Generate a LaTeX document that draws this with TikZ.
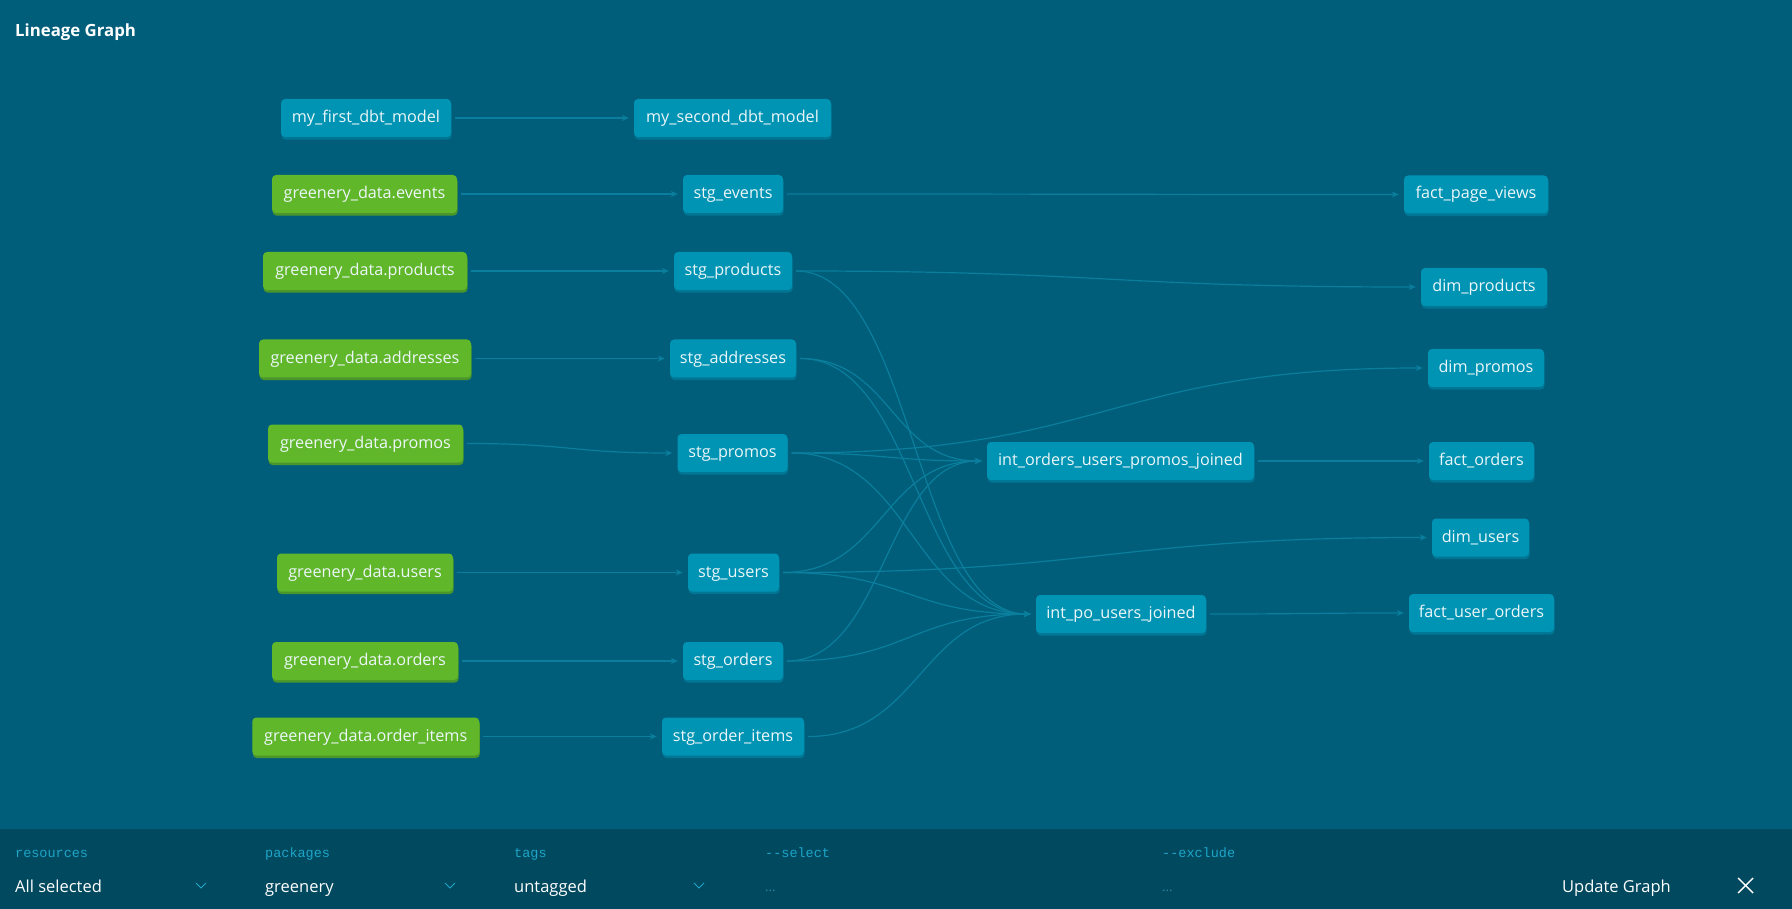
\documentclass[tikz,border=0pt]{standalone}
\usepackage{fontspec}
\setmainfont{Open Sans}
\newfontfamily\codefont{Liberation Mono}
\usetikzlibrary{arrows.meta,shadows}

\definecolor{canvas}{RGB}{0,94,122}
\definecolor{panel}{RGB}{0,73,95}
\definecolor{modelfill}{RGB}{0,148,180}
\definecolor{modelshade}{RGB}{0,118,148}
\definecolor{sourcefill}{RGB}{97,183,42}
\definecolor{sourceshade}{RGB}{74,150,42}
\definecolor{edgecol}{RGB}{10,126,156}
\definecolor{nodetext}{RGB}{236,246,249}
\definecolor{labelcol}{RGB}{30,165,200}
\definecolor{dimtext}{RGB}{45,135,165}

\tikzset{
  box/.style={rounded corners=4pt, minimum height=38pt, inner sep=0pt,
    text=nodetext, font=\fontsize{16.2}{19}\selectfont,
    text height=12pt, text depth=3pt},
  model/.style={box, fill=modelfill,
    drop shadow={shadow xshift=0.6pt, shadow yshift=-2.6pt, fill=modelshade, opacity=1}},
  source/.style={box, fill=sourcefill,
    drop shadow={shadow xshift=0.6pt, shadow yshift=-2.6pt, fill=sourceshade, opacity=1}},
  edge/.style={draw=edgecol, line width=1.2pt,
    -{Stealth[length=7pt,width=6pt,inset=2pt]}, shorten <=4pt, shorten >=5pt},
  fieldlabel/.style={anchor=base west, inner sep=0pt, text=labelcol,
    font=\codefont\fontsize{13.5}{16}\selectfont},
  fieldvalue/.style={anchor=base west, inner sep=0pt, text=white,
    font=\fontsize{16.5}{19}\selectfont},
  fieldempty/.style={anchor=base west, inner sep=0pt, text=dimtext,
    font=\fontsize{13}{16}\selectfont},
  chevron/.style={draw=labelcol, line width=1pt}
}

% lineage edge leaving and entering horizontally
\newcommand\dbtlink[3]{\draw[edge] (#1.east) .. controls +(#3,0) and +(-#3,0) .. (#2.west);}

\begin{document}
\begin{tikzpicture}[x=1pt,y=-1pt]
\useasboundingbox (0,0) rectangle (1792,909);
\fill[canvas] (0,0) rectangle (1792,909);
\fill[panel] (0,829) rectangle (1792,909);

\node[anchor=base west, inner sep=0pt, text=white,
  font=\bfseries\fontsize{16.8}{19}\selectfont] (title) at (15,37) {Lineage Graph};

% sources
\node[source, minimum width=185pt] (gevents)    at (364.5,194) {greenery\_data.events};
\node[source, minimum width=204pt] (gproducts)  at (365,271)   {greenery\_data.products};
\node[source, minimum width=212pt] (gaddresses) at (365,358.5) {greenery\_data.addresses};
\node[source, minimum width=195pt] (gpromos)    at (365.5,443.5) {greenery\_data.promos};
\node[source, minimum width=176pt] (gusers)     at (365,572.5) {greenery\_data.users};
\node[source, minimum width=186pt] (gorders)    at (365,661)   {greenery\_data.orders};
\node[source, minimum width=227pt] (gitems)     at (365.75,736.5) {greenery\_data.order\_items};

% example models
\node[model, minimum width=170pt] (first)  at (366,118)   {my\_first\_dbt\_model};
\node[model, minimum width=197pt] (second) at (732.5,118) {my\_second\_dbt\_model};

% staging
\node[model, minimum width=100pt] (sevents)    at (733,194)   {stg\_events};
\node[model, minimum width=118pt] (sproducts)  at (733,271)   {stg\_products};
\node[model, minimum width=126pt] (saddresses) at (733,358.5) {stg\_addresses};
\node[model, minimum width=110pt] (spromos)    at (732.5,453) {stg\_promos};
\node[model, minimum width=91pt]  (susers)     at (733.5,572.5) {stg\_users};
\node[model, minimum width=100pt] (sorders)    at (733,661)   {stg\_orders};
\node[model, minimum width=142pt] (sitems)     at (733,736.5) {stg\_order\_items};

% intermediate
\node[model, minimum width=267pt] (ioup) at (1120.5,461) {int\_orders\_users\_promos\_joined};
\node[model, minimum width=170pt] (ipo)  at (1121,614)   {int\_po\_users\_joined};

% marts
\node[model, minimum width=144pt] (fpv)  at (1476,194.5) {fact\_page\_views};
\node[model, minimum width=126pt] (dprod) at (1484,287)  {dim\_products};
\node[model, minimum width=116pt] (dprom) at (1486,368)  {dim\_promos};
\node[model, minimum width=105pt] (ford) at (1481.5,461) {fact\_orders};
\node[model, minimum width=97pt]  (dusr) at (1480.5,537.5) {dim\_users};
\node[model, minimum width=145pt] (fuo)  at (1481.5,613) {fact\_user\_orders};

% edges
\dbtlink{first}{second}{90}
\dbtlink{gevents}{sevents}{113}
\dbtlink{gproducts}{sproducts}{103}
\dbtlink{gaddresses}{saddresses}{100}
\dbtlink{gpromos}{spromos}{107}
\dbtlink{gusers}{susers}{117}
\dbtlink{gorders}{sorders}{112}
\dbtlink{gitems}{sitems}{91}

\dbtlink{sevents}{fpv}{310}
\dbtlink{sproducts}{dprod}{314}
\dbtlink{sproducts}{ipo}{122}
\dbtlink{saddresses}{ioup}{95}
\dbtlink{saddresses}{ipo}{120}
\dbtlink{spromos}{dprom}{320}
\dbtlink{spromos}{ioup}{100}
\dbtlink{spromos}{ipo}{124}
\dbtlink{susers}{dusr}{326}
\dbtlink{susers}{ioup}{104}
\dbtlink{susers}{ipo}{128}
\dbtlink{sorders}{ioup}{102}
\dbtlink{sorders}{ipo}{126}
\dbtlink{sitems}{ipo}{116}

\dbtlink{ioup}{ford}{87}
\dbtlink{ipo}{fuo}{101}

% selection bar
\node[fieldlabel] (resL)  at (15,857)   {resources};
\node[fieldvalue] (resV)  at (15,892)   {All selected};
\draw[chevron] (196,883) -- (201,888) -- (206,883);

\node[fieldlabel] (pkgL)  at (265,857)  {packages};
\node[fieldvalue] (pkgV)  at (265,892)  {greenery};
\draw[chevron] (445,883) -- (450,888) -- (455,883);

\node[fieldlabel] (tagL)  at (514,857)  {tags};
\node[fieldvalue] (tagV)  at (514,892)  {untagged};
\draw[chevron] (694,883) -- (699,888) -- (704,883);

\node[fieldlabel] (selL)  at (765,857)  {-{}-select};
\node[fieldempty] (selV)  at (765,891)  {...};

\node[fieldlabel] (excL)  at (1162,857) {-{}-exclude};
\node[fieldempty] (excV)  at (1162,891) {...};

\node[fieldvalue] (update) at (1562,892) {Update Graph};
\draw[white, line width=1.4pt] (1738,878) -- (1753,893) (1738,893) -- (1753,878);
\end{tikzpicture}
\end{document}
